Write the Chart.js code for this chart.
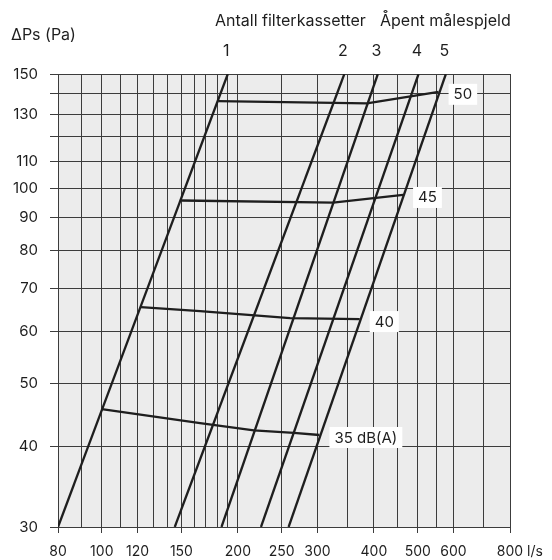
<!DOCTYPE html>
<html>
<head>
<meta charset="utf-8">
<script src="https://cdn.jsdelivr.net/npm/chart.js@4.4.1/dist/chart.umd.min.js"></script>
<style>
  html, body { margin: 0; padding: 0; background: #fff; }
  #wrap { width: 552px; height: 560px; }
</style>
</head>
<body>
<div id="wrap"><canvas id="chart"></canvas></div>
<script>
// Axis ticks (l/s and Pa)
const xTicks = [80, 90, 100, 110, 120, 130, 140, 150, 160, 170, 180, 190, 200, 250, 300, 350, 400, 450, 500, 550, 600, 700, 800];
const xLabels = [80, 100, 120, 150, 200, 250, 300, 400, 500, 600, 800];
const yTicks = [30, 40, 50, 60, 70, 80, 90, 100, 110, 120, 130, 140, 150];
const yLabels = [30, 40, 50, 60, 70, 80, 90, 100, 110, 130, 150];

// Filter cassette lines: flow at 30 Pa and at 150 Pa
const filterNames = ['1', '2', '3', '4', '5'];
const filterBottom = [80, 145, 184, 225, 259];
const filterTop = [190, 344, 408, 502, 577];

// Sound level lines
const db35X = [100, 165, 217, 266, 303];
const db35Y = [45.6, 43.4, 42.3, 41.9, 41.6];
const db40X = [122, 165, 261, 372];
const db40Y = [65.5, 64.6, 63.0, 62.8];
const db45X = [150, 325, 464];
const db45Y = [95.7, 95.0, 97.6];
const db50X = [181, 386, 556];
const db50Y = [136.2, 135.1, 140.8];

const ink = '#1e1e1e';
const gridCol = '#3c3c3c';
const font = 'Inter';

const soundLines = [
    { label: '35 dB(A)', x: db35X, y: db35Y },
    { label: '40', x: db40X, y: db40Y },
    { label: '45', x: db45X, y: db45Y },
    { label: '50', x: db50X, y: db50Y }
];

const datasets = [];
filterNames.forEach(function(n, i) {
    datasets.push({
        label: 'Filter ' + n,
        data: [{ x: filterBottom[i], y: 30 }, { x: filterTop[i], y: 150 }],
        borderColor: ink,
        borderWidth: 2.3,
        pointRadius: 0
    });
});
soundLines.forEach(function(s) {
    datasets.push({
        label: s.label,
        data: s.x.map(function(v, i) { return { x: v, y: s.y[i] }; }),
        borderColor: ink,
        borderWidth: 2.3,
        pointRadius: 0,
        tension: 0
    });
});

const plotBg = {
    id: 'plotBg',
    beforeDraw(chart) {
        const a = chart.chartArea, ctx = chart.ctx;
        ctx.save();
        ctx.fillStyle = '#ececec';
        ctx.fillRect(a.left, a.top, a.right - a.left, a.bottom - a.top);
        ctx.restore();
    }
};

const texts = {
    id: 'texts',
    afterDraw(chart) {
        const ctx = chart.ctx, xs = chart.scales.x, ys = chart.scales.y;
        ctx.save();
        ctx.fillStyle = ink;
        ctx.font = '16px ' + font;
        ctx.textBaseline = 'alphabetic';
        ctx.textAlign = 'left';
        ctx.fillText('ΔPs (Pa)', 11, 40);
        ctx.fillText('Antall filterkassetter', 215, 26);
        ctx.fillText('Åpent målespjeld', 380, 26);
        ctx.textAlign = 'center';
        filterNames.forEach(function(n, i) {
            ctx.fillText(n, xs.getPixelForValue(filterTop[i]) - 1.5, 56);
        });
        ctx.font = '14px ' + font;
        ctx.textAlign = 'left';
        ctx.fillText('l/s', xs.right + 17, 556);
        // dB labels in white boxes
        ctx.font = '15px ' + font;
        soundLines.forEach(function(s) {
            const k = s.x.length - 1;
            const px = xs.getPixelForValue(s.x[k]);
            const py = ys.getPixelForValue(s.y[k]);
            ctx.textAlign = 'left';
            ctx.textBaseline = 'middle';
            const w = ctx.measureText(s.label).width + 10;
            ctx.fillStyle = '#fff';
            ctx.fillRect(px + 10, py + 2.5 - 10.5, w, 21);
            ctx.fillStyle = ink;
            ctx.fillText(s.label, px + 15, py + 3);
        });
        ctx.restore();
    }
};

new Chart(document.getElementById('chart'), {
    type: 'line',
    data: { datasets: datasets },
    plugins: [plotBg, texts],
    options: {
        responsive: true,
        maintainAspectRatio: false,
        animation: false,
        layout: { padding: { top: 74, right: 42, left: 0, bottom: 0 } },
        plugins: { legend: { display: false }, tooltip: { enabled: false } },
        scales: {
            x: {
                type: 'logarithmic',
                min: 80,
                max: 800,
                afterBuildTicks: function(scale) {
                    scale.ticks = xTicks.map(function(v) { return { value: v }; });
                },
                afterFit: function(scale) { scale.height = 33; },
                grid: {
                    color: gridCol,
                    lineWidth: 1,
                    tickLength: 6,
                    tickColor: function(c) { return xLabels.includes(c.tick.value) ? gridCol : 'rgba(0,0,0,0)'; }
                },
                border: { color: gridCol },
                ticks: {
                    autoSkip: false,
                    maxRotation: 0,
                    padding: 10,
                    color: ink,
                    font: { family: font, size: 14 },
                    callback: function(v) { return xLabels.includes(v) ? String(v) : ''; }
                }
            },
            y: {
                type: 'logarithmic',
                min: 30,
                max: 150,
                afterBuildTicks: function(scale) {
                    scale.ticks = yTicks.map(function(v) { return { value: v }; });
                },
                afterFit: function(scale) { scale.width = 58; },
                grid: { color: gridCol, lineWidth: 1, tickLength: 8, tickColor: gridCol },
                border: { color: gridCol },
                ticks: {
                    autoSkip: false,
                    padding: 12,
                    color: ink,
                    font: { family: font, size: 15 },
                    callback: function(v) { return yLabels.includes(v) ? String(v) : ''; }
                }
            }
        }
    }
});
</script>
</body>
</html>
